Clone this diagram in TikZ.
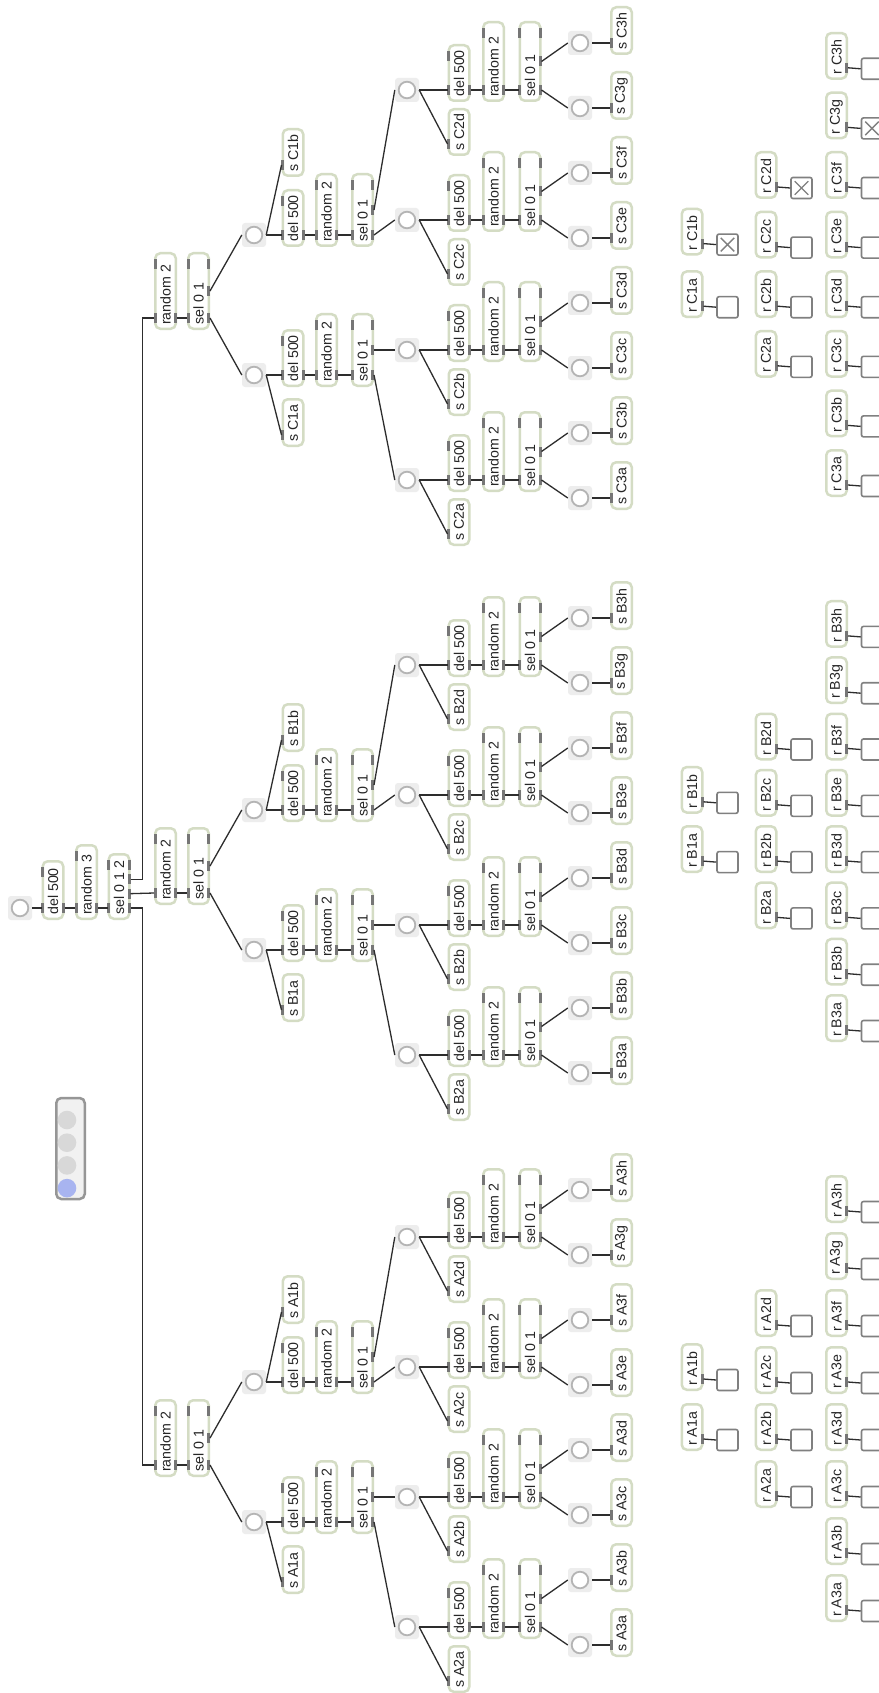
\documentclass[tikz,border=0pt]{standalone}
\usepackage{fontspec}
\setmainfont{Liberation Sans}
\usetikzlibrary{calc}
\definecolor{objedge}{RGB}{212,220,196}
\definecolor{tabgray}{RGB}{118,118,118}
\definecolor{bangbg}{RGB}{237,237,237}
\definecolor{bangedge}{RGB}{180,180,180}
\definecolor{toggleedge}{RGB}{128,128,128}
\definecolor{cordcol}{RGB}{45,45,45}
\definecolor{radiobg}{RGB}{241,241,241}
\definecolor{radioedge}{RGB}{150,150,150}
\definecolor{radiodot}{RGB}{216,216,216}
\definecolor{radiosel}{RGB}{168,180,240}

\newcommand\pobj[7]{%
  \pgfmathsetmacro\ptw{#4-10.5}%
  \node[obj] (#1) at ({#2},{#3-#4/2}) {\makebox[\ptw pt][l]{#5}};
  \ifnum#6>0
    \pgfmathtruncatemacro\pn{#6-1}%
    \pgfmathsetmacro\pst{(#4-24)/max(#6-1,1)}%
    \foreach \pk in {0,...,\pn} {
      \pgfmathsetmacro\py{#3-12-\pk*\pst}
      \fill[tabgray] ({#2-11.75},{\py-5}) rectangle ({#2-8.75},{\py+5});
      \coordinate (#1-i\pk) at ({#2-11.5},\py);
    }
  \fi
  \ifnum#7>0
    \pgfmathtruncatemacro\pn{#7-1}%
    \pgfmathsetmacro\pst{(#4-24)/max(#7-1,1)}%
    \foreach \pk in {0,...,\pn} {
      \pgfmathsetmacro\py{#3-12-\pk*\pst}
      \fill[tabgray] ({#2+8.75},{\py-5}) rectangle ({#2+11.75},{\py+5});
      \coordinate (#1-o\pk) at ({#2+11.5},\py);
    }
  \fi
}
\newcommand\pchain[6]{%
  \pobj{d-#1}{#2}{#5+12}{58}{del 500}{2}{1}
  \pobj{n-#1}{#3}{#5+12}{#6}{random 2}{2}{1}
  \pobj{x-#1}{#4}{#5+12}{#6}{sel 0 1}{2}{3}
  \draw[cord] (b-#1.east) -- (d-#1-i0) (d-#1-o0) -- (n-#1-i0) (n-#1-o0) -- (x-#1-i0);
}
\newcommand\ptree[2]{%
  \pobj{hr-#1}{165.5}{#2}{78}{random 2}{2}{1}
  \pobj{hs-#1}{198.5}{#2}{78}{sel 0 1}{2}{3}
  \draw[cord] (hr-#1-o0) -- (hs-#1-i0);
  \foreach \nm/\dy/\ot/\so in {a/45/0/72, b/-95/1/-58} {
    \node[bang] (b-#11\nm) at (254,{#2+\dy}) {};
    \draw[cord] (hs-#1-o\ot) -- (b-#11\nm.west);
    \pchain{#11\nm}{293}{326.5}{362.5}{#2+\dy}{74}
    \pobj{s-#11\nm}{293}{#2+\dy+\so}{49}{s #11\nm}{1}{0}
    \draw[cord] (b-#11\nm.east) -- (s-#11\nm-i0);
  }
  \foreach \nm/\dy/\pr/\ot in {a/150/1a/0, b/20/1a/1, c/-110/1b/0, d/-240/1b/1} {
    \node[bang] (b-#12\nm) at (407,{#2+\dy}) {};
    \draw[cord] (x-#1\pr-o\ot) -- (b-#12\nm.west);
    \pchain{#12\nm}{459}{493.5}{530}{#2+\dy}{81}
    \pobj{s-#12\nm}{459}{#2+\dy+66}{48}{s #12\nm}{1}{0}
    \draw[cord] (b-#12\nm.east) -- (s-#12\nm-i0);
  }
  \foreach \nm/\dy/\pr/\ot in {a/168/2a/0, b/103/2a/1, c/38/2b/0, d/-27/2b/1,
      e/-92/2c/0, f/-157/2c/1, g/-222/2d/0, h/-287/2d/1} {
    \node[bang] (b-#13\nm) at (580,{#2+\dy}) {};
    \draw[cord] (x-#1\pr-o\ot) -- (b-#13\nm.west);
    \pobj{s-#13\nm}{621.5}{#2+\dy+12}{49}{s #13\nm}{1}{0}
    \draw[cord] (b-#13\nm.east) -- (s-#13\nm-i0);
  }
}
\newcommand\precv[3]{%
  \pobj{r-#1}{#2}{#3}{48}{r #1}{0}{1}
  \node[toggle] (t-#1) at ({#2+35.5},{#3-11}) {};
  \draw[cord] (r-#1-o0) -- (t-#1.west);
}

\begin{document}
\begin{tikzpicture}[x=1pt,y=-1pt,
  obj/.style={rectangle, draw=objedge, line width=2.5pt, fill=white, rounded corners=5pt,
    rotate=90, inner xsep=4pt, inner ysep=0pt, minimum height=20.5pt,
    font=\fontsize{14.2}{16}\selectfont, text=black!85},
  bang/.style={rectangle, fill=bangbg, rounded corners=3pt, minimum size=24pt, inner sep=0pt,
    path picture={\draw[bangedge, line width=1.8pt, fill=white] (path picture bounding box.center) circle (8.3pt);}},
  toggle/.style={rectangle, draw=toggleedge, line width=1.6pt, fill=white, rounded corners=2pt,
    minimum size=21pt, inner sep=0pt},
  cord/.style={draw=cordcol, line width=1.3pt}]
\fill[white] (0,0) rectangle (878,1693);
\useasboundingbox (0,0) rectangle (878,1693);
\node[bang] (go) at (20,908) {};
\pobj{del0}{53}{920}{60}{del 500}{2}{1}
\pobj{rnd0}{86.5}{920}{76}{random 3}{2}{1}
\pobj{sel0}{119}{920}{67}{sel 0 1 2}{2}{4}
\draw[cord] (go.east) -- (del0-i0) (del0-o0) -- (rnd0-i0) (rnd0-o0) -- (sel0-i0);
\ptree{A}{1477}
\ptree{B}{905}
\ptree{C}{330}
\draw[cord] (sel0-o0) -- ++(12,0) |- (hr-A-i0);
\draw[cord] (sel0-o1) -- (hr-B-i0);
\draw[cord] (sel0-o2) -- ++(12,0) |- (hr-C-i0);
\foreach \grp/\rb/\rs in {A/1622/57, B/1042/56.3, C/497/59.6} {
  \foreach \ltr [count=\ri from 0] in {a,...,h} {\precv{\grp3\ltr}{836.5}{\rb-\ri*\rs}}
  \foreach \ltr [count=\ri from 2] in {a,...,d} {\precv{\grp2\ltr}{766}{\rb-\ri*\rs}}
  \precv{\grp1a}{692}{\rb-3*\rs}
  \precv{\grp1b}{692}{\rb-4*\rs-3}
}
\foreach \tg in {t-C1b, t-C2d, t-C3g} {
  \draw[toggleedge, line width=1.3pt]
    ($(\tg.north west)!.2!(\tg.south east)$) -- ($(\tg.north west)!.8!(\tg.south east)$)
    ($(\tg.north east)!.2!(\tg.south west)$) -- ($(\tg.north east)!.8!(\tg.south west)$);
}
\node[rectangle, draw=radioedge, fill=radiobg, line width=2.5pt, rounded corners=5pt,
  minimum width=28.5pt, minimum height=101pt, inner sep=0pt] (radio) at (70.5,1148.5) {};
\foreach \ri/\rc in {0/radiodot, 1/radiodot, 2/radiodot, 3/radiosel}
  \fill[\rc] (67,{1120+\ri*22.7}) circle (9.3pt);
\end{tikzpicture}
\end{document}
